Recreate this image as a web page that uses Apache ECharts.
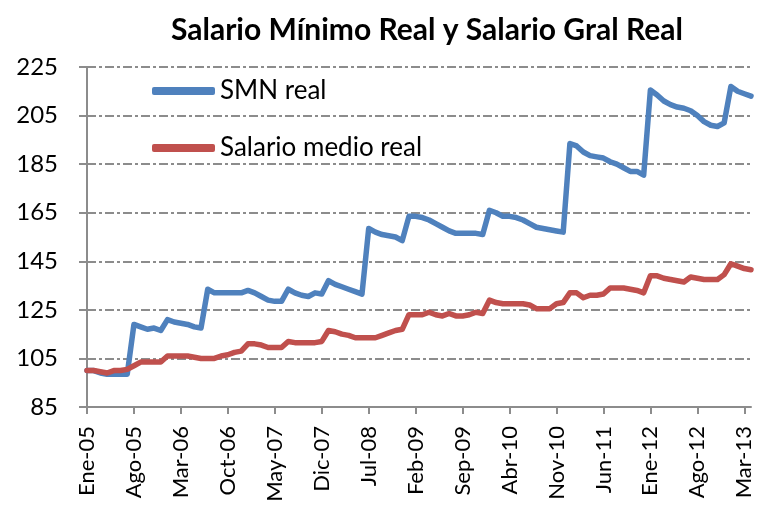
<!DOCTYPE html>
<html>
<head>
<meta charset="utf-8">
<script src="https://cdn.jsdelivr.net/npm/echarts@6/dist/echarts.min.js"></script>
<style>
  html, body { margin: 0; padding: 0; background: #fff; }
  #chart { width: 763px; height: 513px; }
</style>
</head>
<body>
<div id="chart"></div>
<script>
// meses Ene-05 .. Abr-13
let mesesNombre = ['Ene', 'Feb', 'Mar', 'Abr', 'May', 'Jun', 'Jul', 'Ago', 'Sep', 'Oct', 'Nov', 'Dic']
let anios = ['05', '06', '07', '08', '09', '10', '11', '12', '13']

let smnReal = [
  100, 100, 99, 98.5, 98.5, 98.5, 98.5, 119, 118, 117,
  117.5, 116.5, 121, 120, 119.5, 119, 118, 117.5, 133.5, 132,
  132, 132, 132, 132, 133, 132, 130.5, 129, 128.5, 128.5,
  133.5, 132, 131, 130.5, 132, 131.5, 137, 135.5, 134.5, 133.5,
  132.5, 131.5, 158.5, 157, 156, 155.5, 155, 153.5, 163.5, 163.5,
  163, 162, 160.5, 159, 157.5, 156.5, 156.5, 156.5, 156.5, 156,
  166, 165, 163.5, 163.5, 163, 162, 160.5, 159, 158.5, 158,
  157.5, 157, 193.5, 192.5, 190, 188.5, 188, 187.5, 186, 185,
  183.5, 182, 182, 180.5, 215.5, 213.5, 211, 209.5, 208.5, 208,
  207, 205, 202.5, 201, 200.5, 202, 217, 215, 214, 213
]

let salarioMedioReal = [
  100, 100, 99.5, 99, 100, 100, 100.5, 102, 103.5, 103.5,
  103.5, 103.5, 106, 106, 106, 106, 105.5, 105, 105, 105,
  106, 106.5, 107.5, 108, 111, 111, 110.5, 109.5, 109.5, 109.5,
  112, 111.5, 111.5, 111.5, 111.5, 112, 116.5, 116, 115, 114.5,
  113.5, 113.5, 113.5, 113.5, 114.5, 115.5, 116.5, 117, 123, 123,
  123, 124, 123, 122.5, 123.5, 122.5, 122.5, 123, 124, 123.5,
  129, 128, 127.5, 127.5, 127.5, 127.5, 127, 125.5, 125.5, 125.5,
  127.5, 128, 132, 132, 130, 131, 131, 131.5, 134, 134,
  134, 133.5, 133, 132, 139, 139, 138, 137.5, 137, 136.5,
  138.5, 138, 137.5, 137.5, 137.5, 139.5, 144, 143, 142, 141.5
]

let categorias = []
for (let i = 0; i < smnReal.length; i++) {
  categorias.push(mesesNombre[i % 12] + '-' + anios[Math.floor(i / 12)])
}

let fuente = 'Lato, "Open Sans", sans-serif'
let gridColor = '#8c8c8c'

let myChart = echarts.init(document.getElementById('chart'))
myChart.setOption({
  animation: false,
  title: {
    text: 'Salario Mínimo Real y Salario Gral Real',
    left: 166,
    top: 10,
    textStyle: {
      color: '#000',
      fontFamily: fuente,
      fontWeight: 'bold',
      fontSize: 30
    }
  },
  legend: {
    orient: 'vertical',
    left: 147,
    top: 73,
    itemGap: 31,
    itemWidth: 63,
    itemHeight: 8,
    itemTextGap: 4,
    icon: 'roundRect',
    textStyle: {
      fontFamily: fuente,
      fontSize: 26,
      color: '#000'
    },
    data: ['SMN real', 'Salario medio real']
  },
  grid: {
    left: 87,
    right: 12,
    top: 67,
    bottom: 106
  },
  xAxis: {
    type: 'category',
    data: categorias,
    boundaryGap: false,
    axisLine: {
      lineStyle: { color: gridColor, width: 2 }
    },
    axisTick: {
      interval: 6,
      length: 7,
      lineStyle: { color: gridColor, width: 2 }
    },
    axisLabel: {
      interval: 6,
      rotate: 90,
      margin: 19,
      fontFamily: fuente,
      fontSize: 22,
      color: '#000'
    },
    splitLine: { show: false }
  },
  yAxis: {
    type: 'value',
    min: 85,
    max: 225,
    interval: 20,
    axisLine: {
      show: true,
      lineStyle: { color: gridColor, width: 2 }
    },
    axisTick: {
      show: true,
      length: 8,
      lineStyle: { color: gridColor, width: 2 }
    },
    axisLabel: {
      margin: 29,
      fontFamily: fuente,
      fontSize: 24,
      color: '#000'
    },
    splitLine: {
      lineStyle: {
        color: gridColor,
        width: 2,
        type: [9, 3, 3, 3]
      }
    }
  },
  series: [
    {
      name: 'SMN real',
      type: 'line',
      data: smnReal,
      showSymbol: false,
      color: '#4f81bd',
      lineStyle: { width: 5.5, color: '#4f81bd', cap: 'round', join: 'round' }
    },
    {
      name: 'Salario medio real',
      type: 'line',
      data: salarioMedioReal,
      showSymbol: false,
      color: '#c0504d',
      lineStyle: { width: 5.5, color: '#c0504d', cap: 'round', join: 'round' }
    }
  ]
})
</script>
</body>
</html>
